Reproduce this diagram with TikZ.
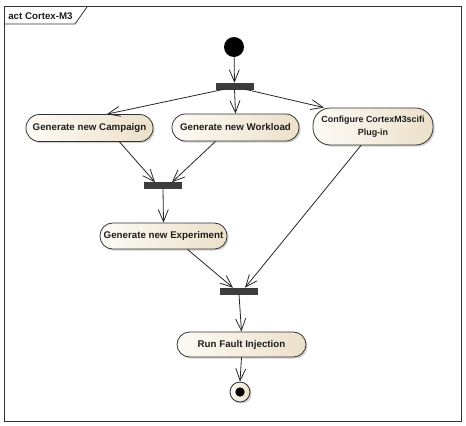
\documentclass[tikz,border=0pt]{standalone}
\usepackage{fontspec}
\setmainfont{Liberation Sans}
\usetikzlibrary{arrows.meta,shadows,calc}
\definecolor{nodeL}{RGB}{253,251,246}
\definecolor{nodeR}{RGB}{236,224,201}
\definecolor{barc}{RGB}{60,60,60}
\definecolor{txt}{RGB}{30,30,30}
\tikzset{
  act/.style={draw=black!80, line width=0.6pt, rounded corners=#1, left color=nodeL, right color=nodeR,
    font=\fontsize{7.3}{8.6}\selectfont\bfseries, text=txt, align=center, inner sep=0pt,
    drop shadow={shadow xshift=1.2pt, shadow yshift=-1.2pt, fill=black!30, opacity=0.6}},
  forkbar/.style={fill=barc, draw=barc, inner sep=0pt, minimum width=27.75pt, minimum height=4.5pt},
  flow/.style={draw=black!85, line width=0.6pt, -{Straight Barb[length=9pt,width=7.5pt,line width=0.6pt]}},
}
\begin{document}
\begin{tikzpicture}[x=0.75pt,y=-0.75pt]
\useasboundingbox (0,0) rectangle (466,425);
% frame
\draw[line width=0.6pt, black!80] (4,6) rectangle (461,421);
\draw[line width=0.6pt, black!80] (4,24) -- (75,24) -- (87,7) -- (87,6);
\node[font=\fontsize{7.3}{8.6}\selectfont\bfseries, text=txt, anchor=west, inner sep=0pt] (title) at (8,16) {act Cortex-M3};
% start
\node[circle, fill=black, inner sep=0pt, minimum size=15pt] (start) at (234,47) {};
% bars
\node[forkbar] (bar1) at (234.5,86) {};
\node[forkbar] (bar2) at (163,185.5) {};
\node[forkbar] (bar3) at (239,291) {};
% actions
\node[act=10pt, minimum width=95.25pt, minimum height=20.25pt] (camp) at (89.5,128) {Generate new Campaign};
\node[act=10pt, minimum width=95.25pt, minimum height=20.25pt] (work) at (235.5,127.5) {Generate new Workload};
\node[act=13pt, minimum width=90pt, minimum height=27.75pt, font=\fontsize{6.7}{10}\selectfont\bfseries] (conf) at (373,126.5) {Configure CortexM3scifi\\Plug-in};
\node[act=9.5pt, minimum width=95.25pt, minimum height=19.5pt] (exp) at (163.5,236) {Generate new Experiment};
\node[act=9.5pt, minimum width=96.75pt, minimum height=18.75pt] (run) at (241.5,344.5) {Run Fault Injection};
% end
\node[circle, draw=black!85, line width=0.6pt, left color=nodeL, right color=nodeR, inner sep=0pt, minimum size=15pt,
  drop shadow={shadow xshift=1.2pt, shadow yshift=-1.2pt, fill=black!30, opacity=0.6}] (endn) at (240,392) {};
\node[circle, fill=black, inner sep=0pt, minimum size=7pt] (endin) at (endn.center) {};
% flows
\draw[flow] (start) -- (bar1);
\draw[flow] ($(bar1.south)+(-10.5,0)$) -- ($(camp.north)+(17.5,0)$);
\draw[flow] (bar1.south) -- (work.north);
\draw[flow] ($(bar1.south)+(10.5,0)$) -- ($(conf.north)+(-49,0)$);
\draw[flow] ($(camp.south)+(30,0)$) -- ($(bar2.north)+(-8,0)$);
\draw[flow] ($(work.south)+(-20,0)$) -- ($(bar2.north)+(9,0)$);
\draw[flow] (bar2.south) -- (exp.north);
\draw[flow] ($(exp.south)+(24,0)$) -- ($(bar3.north)+(-6,0)$);
\draw[flow] ($(conf.south)+(-12,0)$) -- ($(bar3.north)+(6,0)$);
\draw[flow] (bar3.south) -- (run.north);
\draw[flow] (run.south) -- (endn.north);
\end{tikzpicture}
\end{document}
